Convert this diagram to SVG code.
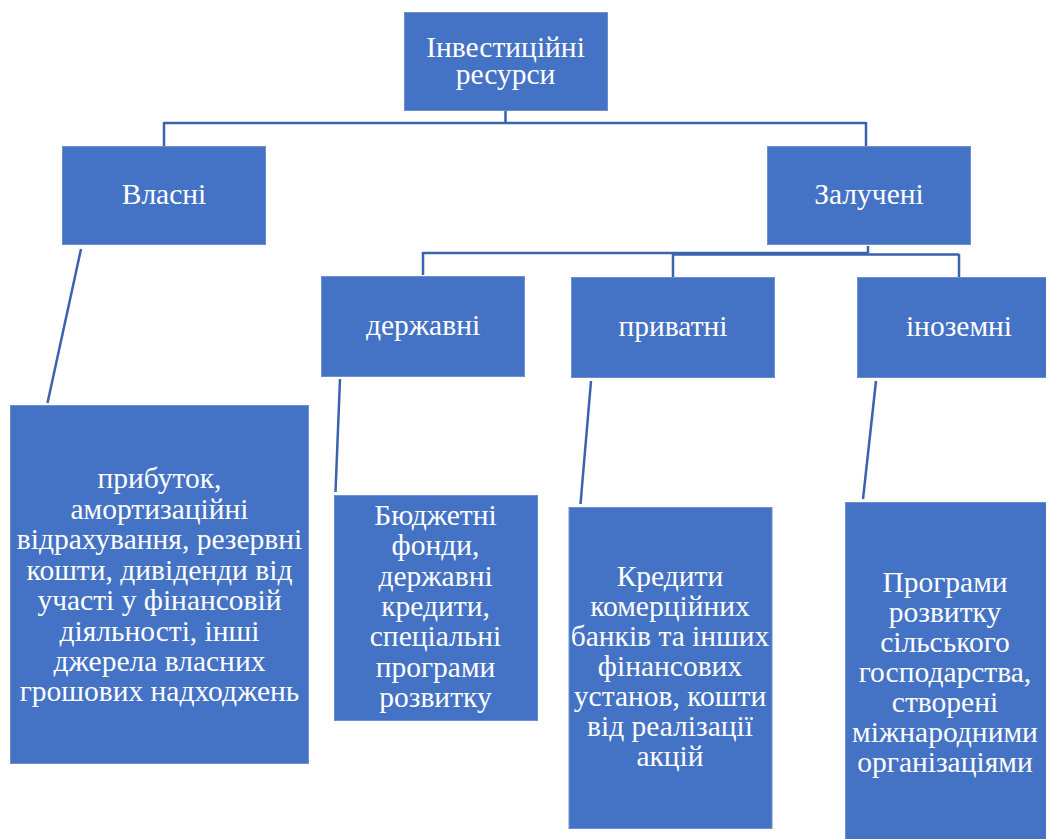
<svg xmlns="http://www.w3.org/2000/svg" width="1046" height="839" viewBox="0 0 1046 839">
<style>
.box{fill:#4472C4;stroke:#6D8FD0;stroke-width:1}
.t{font-family:"Liberation Serif","Times New Roman",serif;font-size:29.5px;fill:#FFFFFF;text-anchor:middle}
.c{fill:none;stroke:#3A62AD;stroke-width:2.5}
</style>
<rect width="1046" height="839" fill="#FFFFFF"/>
<g id="connectors">
<path class="c" d="M505.5 111 V123 M164 123 H866 M164 122 V146 M866 122 V146"/>
<path class="c" d="M868 246 V253 M423 253 H868 M423 252 V275 M673 254.5 H959 M673 254 V277 M959 254 V277"/>
<line class="c" x1="81" y1="249" x2="47.5" y2="403"/>
<line class="c" x1="340" y1="379" x2="335.5" y2="492"/>
<line class="c" x1="591" y1="381" x2="580.5" y2="504"/>
<line class="c" x1="876" y1="381" x2="863" y2="499"/>
</g>
<g id="n-root">
<rect class="box" x="404.5" y="12.5" width="203" height="98"/>
<text class="t" x="505.5" y="57">Інвестиційні</text>
<text class="t" x="505.5" y="84">ресурси</text>
</g>
<g id="n-vlasni">
<rect class="box" x="62.5" y="146.5" width="203" height="98"/>
<text class="t" x="164" y="204">Власні</text>
</g>
<g id="n-zalucheni">
<rect class="box" x="767.5" y="146.5" width="203" height="98"/>
<text class="t" x="869" y="204">Залучені</text>
</g>
<g id="n-derzhavni">
<rect class="box" x="321.5" y="276.5" width="203" height="100"/>
<text class="t" x="423" y="335">державні</text>
</g>
<g id="n-pryvatni">
<rect class="box" x="571.5" y="277.5" width="203" height="100"/>
<text class="t" x="673" y="336">приватні</text>
</g>
<g id="n-inozemni">
<rect class="box" x="857.5" y="277.5" width="203" height="100"/>
<text class="t" x="959" y="336">іноземні</text>
</g>
<g id="n-vlasni-detail">
<rect class="box" x="10.5" y="405.5" width="298" height="358"/>
<text class="t" x="159.5" y="488">прибуток,</text>
<text class="t" x="159.5" y="518.5">амортизаційні</text>
<text class="t" x="159.5" y="549">відрахування, резервні</text>
<text class="t" x="159.5" y="579.5">кошти, дивіденди від</text>
<text class="t" x="159.5" y="610">участі у фінансовій</text>
<text class="t" x="159.5" y="640.5">діяльності, інші</text>
<text class="t" x="159.5" y="671">джерела власних</text>
<text class="t" x="159.5" y="701">грошових надходжень</text>
</g>
<g id="n-derzhavni-detail">
<rect class="box" x="334.5" y="495.5" width="203" height="225"/>
<text class="t" x="435.5" y="525">Бюджетні</text>
<text class="t" x="435.5" y="555.3">фонди,</text>
<text class="t" x="435.5" y="585.6">державні</text>
<text class="t" x="435.5" y="616">кредити,</text>
<text class="t" x="435.5" y="646.3">спеціальні</text>
<text class="t" x="435.5" y="676.6">програми</text>
<text class="t" x="435.5" y="707">розвитку</text>
</g>
<g id="n-pryvatni-detail">
<rect class="box" x="569" y="507.5" width="203" height="321"/>
<text class="t" x="670" y="586">Кредити</text>
<text class="t" x="670" y="616">комерційних</text>
<text class="t" x="670" y="646">банків та інших</text>
<text class="t" x="670" y="676">фінансових</text>
<text class="t" x="670" y="706">установ, кошти</text>
<text class="t" x="670" y="736">від реалізації</text>
<text class="t" x="670" y="766">акцій</text>
</g>
<g id="n-inozemni-detail">
<rect class="box" x="845.5" y="502.5" width="203" height="340"/>
<text class="t" x="945" y="592">Програми</text>
<text class="t" x="945" y="622">розвитку</text>
<text class="t" x="945" y="652">сільського</text>
<text class="t" x="945" y="682">господарства,</text>
<text class="t" x="945" y="712">створені</text>
<text class="t" x="945" y="742">міжнародними</text>
<text class="t" x="945" y="772">організаціями</text>
</g>
</svg>
